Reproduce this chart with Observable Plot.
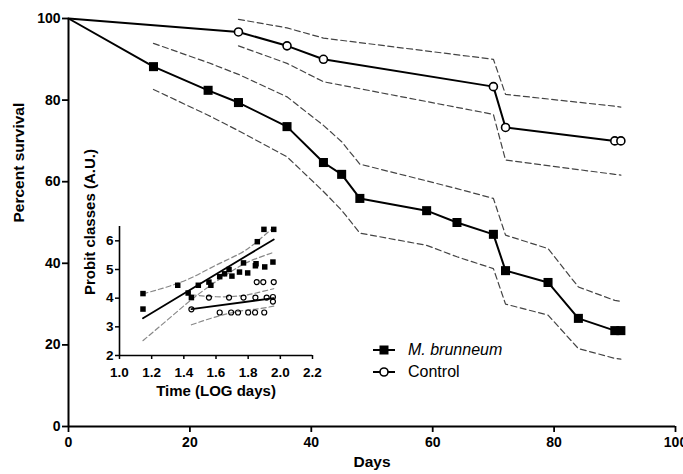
<!DOCTYPE html>
<html>
<head>
<meta charset="utf-8">
<script src="https://cdn.jsdelivr.net/npm/d3@7"></script>
<script src="https://cdn.jsdelivr.net/npm/@observablehq/plot@0.6"></script>
<style>
  html, body { margin: 0; padding: 0; background: #fff; }
  #wrap { position: relative; width: 683px; height: 474px; font-family: "Liberation Sans", Arial, sans-serif; }
  #inset { position: absolute; left: 60px; top: 216px; }
  .leg { position: absolute; left: 372px; display: flex; align-items: center; font-size: 16px; color: #000; }
  .leg span { margin-left: 12px; }
</style>
</head>
<body>
<div id="wrap">
  <div id="main"></div>
  <div id="inset"></div>
  <div class="leg" style="top:340px"><svg width="24" height="20"><line x1="1" x2="23" y1="10" y2="10" stroke="#000" stroke-width="2"/><rect x="7.5" y="5.5" width="9" height="9" fill="#000"/></svg><span style="font-style:italic">M. brunneum</span></div>
  <div class="leg" style="top:362px"><svg width="24" height="20"><line x1="1" x2="23" y1="10" y2="10" stroke="#000" stroke-width="2"/><circle cx="12" cy="10" r="4" fill="#fff" stroke="#000" stroke-width="1.6"/></svg><span>Control</span></div>
</div>
<script>
// ---- Main chart data: Kaplan-Meier survival ----
const mbDays = [0, 14, 23, 28, 36, 42, 45, 48, 59, 64, 70, 72, 79, 84, 90, 91];
const mbSurv = [100, 88.2, 82.4, 79.4, 73.5, 64.7, 61.8, 55.9, 52.9, 50.0, 47.1, 38.2, 35.3, 26.5, 23.5, 23.5];
const ctlDays = [0, 28, 36, 42, 70, 72, 90, 91];
const ctlSurv = [100, 96.7, 93.3, 90.0, 83.3, 73.3, 70.0, 70.0];

// 95% confidence bands (dashed)
const mbCiDays  = [14, 23, 28, 36, 42, 45, 48, 59, 64, 70, 72, 79, 84, 90, 91];
const mbUpper   = [93.9, 89.2, 86.3, 80.8, 73.8, 69.8, 64.3, 60.2, 58.3, 55.9, 46.9, 43.6, 34.2, 30.9, 30.7];
const mbLower   = [82.6, 76.3, 72.5, 66.1, 57.6, 53.0, 47.4, 44.4, 41.6, 38.7, 30.0, 27.3, 19.1, 16.7, 16.5];
const ctlCiDays = [28, 36, 42, 70, 72, 90, 91];
const ctlUpper  = [99.8, 97.7, 95.2, 90.0, 81.4, 78.5, 78.3];
const ctlLower  = [93.3, 89.0, 84.5, 76.5, 65.3, 61.8, 61.6];

const mainXTicks = [0, 20, 40, 60, 80, 100];
const mainYTicks = [0, 20, 40, 60, 80, 100];

// ---- Inset data: probit vs log time ----
const sqX = [1.146, 1.146, 1.362, 1.427, 1.447, 1.490, 1.556, 1.568, 1.623, 1.653, 1.681, 1.699, 1.746, 1.771, 1.797, 1.845, 1.849, 1.857, 1.898, 1.903, 1.954, 1.959];
const sqY = [4.16, 3.62, 4.45, 4.18, 4.02, 4.45, 4.56, 4.45, 4.75, 4.85, 5.00, 4.77, 4.91, 5.23, 4.88, 5.13, 5.20, 5.97, 6.40, 5.09, 5.26, 6.40];
const ciX = [1.447, 1.556, 1.623, 1.681, 1.694, 1.737, 1.771, 1.800, 1.843, 1.845, 1.853, 1.894, 1.900, 1.915, 1.954, 1.954, 1.959];
const ciY = [3.61, 4.02, 3.50, 4.02, 3.50, 3.50, 4.02, 3.50, 3.50, 4.02, 4.56, 4.56, 3.50, 4.02, 4.04, 3.88, 4.56];

const sqFitX = [1.146, 1.959];
const sqFitY = [3.30, 6.05];
const ctlFitX = [1.447, 1.959];
const ctlFitY = [3.62, 4.00];

const sqBandX = [1.146, 1.30, 1.45, 1.60, 1.75, 1.85, 1.959];
const sqBandUp = [4.15, 4.40, 4.72, 5.15, 5.56, 5.95, 6.47];
const sqBandLo = [2.52, 3.25, 3.96, 4.58, 5.12, 5.38, 5.60];
const ctlBandX = [1.447, 1.60, 1.75, 1.85, 1.959];
const ctlBandUp = [4.12, 4.05, 4.08, 4.18, 4.33];
const ctlBandLo = [3.07, 3.35, 3.55, 3.62, 3.72];

const insetXTicks = [1.0, 1.2, 1.4, 1.6, 1.8, 2.0, 2.2];
const insetYTicks = [2, 3, 4, 5, 6];

// ---- build tables ----
const mb = mbDays.map((d, i) => ({day: d, surv: mbSurv[i]}));
const ctl = ctlDays.map((d, i) => ({day: d, surv: ctlSurv[i]}));
const mbCi = mbCiDays.map((d, i) => ({day: d, up: mbUpper[i], lo: mbLower[i]}));
const ctlCi = ctlCiDays.map((d, i) => ({day: d, up: ctlUpper[i], lo: ctlLower[i]}));

const font = '"Liberation Sans", Arial, sans-serif';
const dash = {stroke: "#444", strokeWidth: 1.2, strokeDasharray: "6,3.5"};

const main = Plot.plot({
  width: 683, height: 474,
  marginLeft: 68, marginRight: 8, marginTop: 18, marginBottom: 48,
  x: {domain: [mainXTicks[0], mainXTicks[mainXTicks.length - 1]]},
  y: {domain: [mainYTicks[0], mainYTicks[mainYTicks.length - 1]]},
  style: {fontFamily: font, background: "transparent", color: "#000"},
  marks: [
    Plot.axisY({ticks: mainYTicks, tickSize: 6, tickPadding: 2, fontSize: 14, fontWeight: "bold", strokeWidth: 1.8, label: null, tickFormat: d3.format("d")}),
    Plot.axisX({ticks: mainXTicks, tickSize: 6, tickPadding: 5, fontSize: 14, fontWeight: "bold", strokeWidth: 1.8, label: null, tickFormat: d3.format("d")}),
    Plot.ruleX([mainXTicks[0]], {strokeWidth: 2}),
    Plot.ruleY([mainYTicks[0]], {strokeWidth: 2}),
    Plot.line(mbCi, {x: "day", y: "up", ...dash}),
    Plot.line(mbCi, {x: "day", y: "lo", ...dash}),
    Plot.line(ctlCi, {x: "day", y: "up", ...dash}),
    Plot.line(ctlCi, {x: "day", y: "lo", ...dash}),
    Plot.line(mb, {x: "day", y: "surv", stroke: "#000", strokeWidth: 2}),
    Plot.line(ctl, {x: "day", y: "surv", stroke: "#000", strokeWidth: 2}),
    Plot.dot(mb.slice(1), {x: "day", y: "surv", symbol: "square", fill: "#000", r: 5.1}),
    Plot.dot(ctl.slice(1), {x: "day", y: "surv", symbol: "circle", fill: "#fff", stroke: "#000", strokeWidth: 1.6, r: 4}),
    Plot.text(["Days"], {frameAnchor: "bottom", dy: 40, fontSize: 15.5, fontWeight: "bold"}),
    Plot.text(["Percent survival"], {frameAnchor: "left", dx: -49, rotate: -90, fontSize: 15.5, fontWeight: "bold"})
  ]
});
document.getElementById("main").append(main);

const sq = sqX.map((x, i) => ({x, y: sqY[i]}));
const ci = ciX.map((x, i) => ({x, y: ciY[i]}));
const sqFit = sqFitX.map((x, i) => ({x, y: sqFitY[i]}));
const ctlFit = ctlFitX.map((x, i) => ({x, y: ctlFitY[i]}));
const sqBand = sqBandX.map((x, i) => ({x, up: sqBandUp[i], lo: sqBandLo[i]}));
const ctlBand = ctlBandX.map((x, i) => ({x, up: ctlBandUp[i], lo: ctlBandLo[i]}));
const dash2 = {stroke: "#888", strokeWidth: 1.2, strokeDasharray: "5,3"};

const inset = Plot.plot({
  width: 262, height: 185,
  marginLeft: 59, marginRight: 10, marginTop: 10, marginBottom: 46,
  x: {domain: [insetXTicks[0], insetXTicks[insetXTicks.length - 1]]},
  y: {domain: [insetYTicks[0], 6.5]},
  style: {fontFamily: font, background: "transparent", color: "#000", overflow: "visible"},
  marks: [
    Plot.axisY({ticks: insetYTicks, tickSize: 4, tickPadding: 2, fontSize: 13.5, fontWeight: "bold", strokeWidth: 1.5, label: null, tickFormat: d3.format("d")}),
    Plot.axisX({ticks: insetXTicks, tickSize: 4, tickPadding: 8, fontSize: 13.5, fontWeight: "bold", strokeWidth: 1.5, label: null, tickFormat: d3.format(".1f")}),
    Plot.ruleX([insetXTicks[0]], {strokeWidth: 1.6}),
    Plot.ruleY([insetYTicks[0]], {strokeWidth: 1.6}),
    Plot.line(sqBand, {x: "x", y: "up", curve: "natural", ...dash2}),
    Plot.line(sqBand, {x: "x", y: "lo", curve: "natural", ...dash2}),
    Plot.line(ctlBand, {x: "x", y: "up", curve: "natural", ...dash2}),
    Plot.line(ctlBand, {x: "x", y: "lo", curve: "natural", ...dash2}),
    Plot.line(sqFit, {x: "x", y: "y", stroke: "#000", strokeWidth: 1.8}),
    Plot.line(ctlFit, {x: "x", y: "y", stroke: "#000", strokeWidth: 1.8}),
    Plot.dot(sq, {x: "x", y: "y", symbol: "square", fill: "#000", r: 3.1}),
    Plot.dot(ci, {x: "x", y: "y", symbol: "circle", fill: "none", stroke: "#000", strokeWidth: 1.2, r: 2.5}),
    Plot.text(["Time (LOG days)"], {frameAnchor: "bottom", dy: 40, fontSize: 15, fontWeight: "bold"}),
    Plot.text(["Probit classes (A.U.)"], {frameAnchor: "left", dx: -29, dy: 4, rotate: -90, fontSize: 15, fontWeight: "bold"})
  ]
});
document.getElementById("inset").append(inset);
</script>
</body>
</html>
